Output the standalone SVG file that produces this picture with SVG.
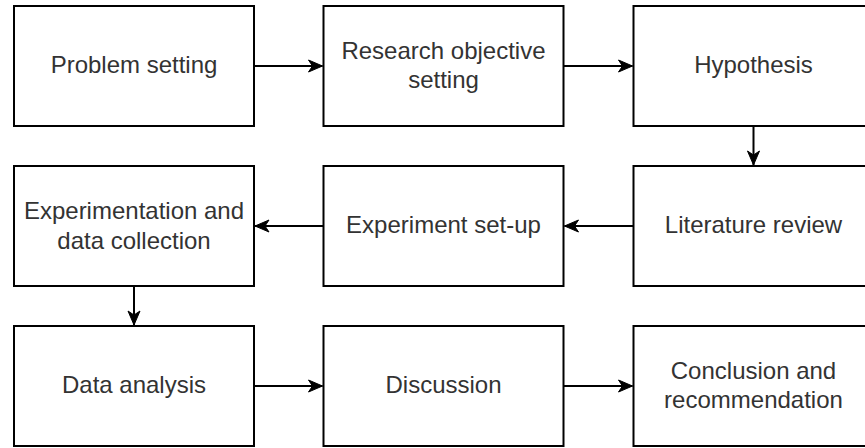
<svg xmlns="http://www.w3.org/2000/svg" width="865" height="448" viewBox="0 0 865 448">
<style>
.box{fill:#fff;stroke:#000;stroke-width:2}
.lbl{font-family:"Liberation Sans",Arial,sans-serif;font-size:24px;fill:#333;text-anchor:middle}
.edge{stroke:#000;stroke-width:2;fill:none}
</style>
<defs>
<marker id="arr" viewBox="0 0 16 14" refX="15" refY="7" markerWidth="16" markerHeight="14" markerUnits="userSpaceOnUse" orient="auto">
<path d="M1,1 L15,7 L1,13 L5,7 Z" fill="#000" stroke="#000" stroke-width="1"/>
</marker>
</defs>
<rect width="865" height="448" fill="#fff"/>
<g id="n1"><rect class="box" x="14" y="6" width="240" height="120"/><text class="lbl" x="134" y="73">Problem setting</text></g>
<g id="n2"><rect class="box" x="323.5" y="6" width="240" height="120"/><text class="lbl" x="443.5" y="58.5">Research objective</text><text class="lbl" x="443.5" y="88">setting</text></g>
<g id="n3"><rect class="box" x="633.5" y="6" width="240" height="120"/><text class="lbl" x="753.5" y="73">Hypothesis</text></g>
<g id="n4"><rect class="box" x="633.5" y="166" width="240" height="120"/><text class="lbl" x="753.5" y="233">Literature review</text></g>
<g id="n5"><rect class="box" x="323.5" y="166" width="240" height="120"/><text class="lbl" x="443.5" y="233">Experiment set-up</text></g>
<g id="n6"><rect class="box" x="14" y="166" width="240" height="120"/><text class="lbl" x="134" y="218.5">Experimentation and</text><text class="lbl" x="134" y="248.5">data collection</text></g>
<g id="n7"><rect class="box" x="14" y="326" width="240" height="120"/><text class="lbl" x="134" y="393">Data analysis</text></g>
<g id="n8"><rect class="box" x="323.5" y="326" width="240" height="120"/><text class="lbl" x="443.5" y="393">Discussion</text></g>
<g id="n9"><rect class="box" x="633.5" y="326" width="240" height="120"/><text class="lbl" x="753.5" y="378.5">Conclusion and</text><text class="lbl" x="753.5" y="408">recommendation</text></g>
<g id="edges">
<line class="edge" x1="254" y1="66" x2="322.5" y2="66" marker-end="url(#arr)"/>
<line class="edge" x1="563.5" y1="66" x2="632.5" y2="66" marker-end="url(#arr)"/>
<line class="edge" x1="753.5" y1="126" x2="753.5" y2="165" marker-end="url(#arr)"/>
<line class="edge" x1="633.5" y1="226" x2="564.5" y2="226" marker-end="url(#arr)"/>
<line class="edge" x1="323.5" y1="226" x2="255" y2="226" marker-end="url(#arr)"/>
<line class="edge" x1="134" y1="286" x2="134" y2="325" marker-end="url(#arr)"/>
<line class="edge" x1="254" y1="386" x2="322.5" y2="386" marker-end="url(#arr)"/>
<line class="edge" x1="563.5" y1="386" x2="632.5" y2="386" marker-end="url(#arr)"/>
</g>
</svg>
